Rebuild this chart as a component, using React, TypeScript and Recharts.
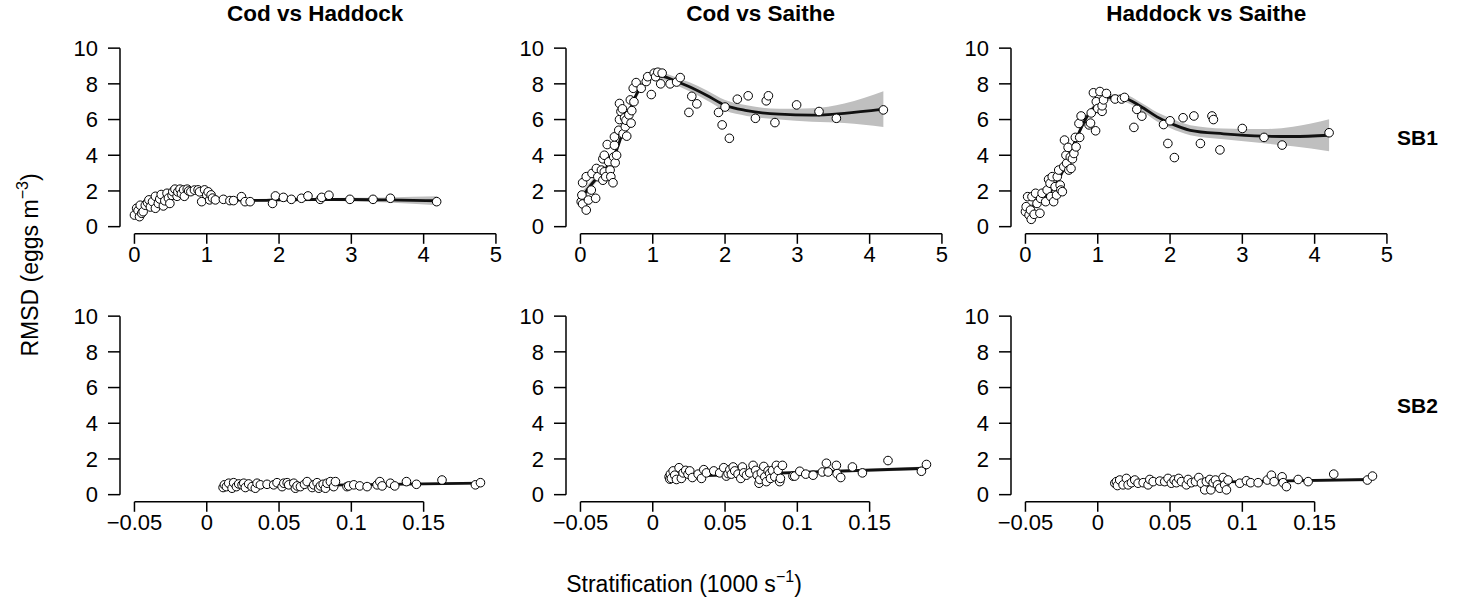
import React from "react";
import { ComposedChart, Scatter, Line, Area, XAxis, YAxis, ReferenceLine } from "recharts";

type Pt = [number, number];

const titles = ["Cod vs Haddock", "Cod vs Saithe", "Haddock vs Saithe"];
const rowLabels = ["SB1", "SB2"];
const yTicks = [0, 2, 4, 6, 8, 10];
const xTicksSB1 = [0, 1, 2, 3, 4, 5];
const xTicksSB2 = [-0.05, 0, 0.05, 0.1, 0.15];

// SB1 points (stratification, RMSD)
const codHaddockSB1: Pt[] = [
  [0, 0.65], [0.03, 1.03], [0.05, 0.9], [0.07, 0.56], [0.08, 1.2], [0.1, 0.75], [0.12, 0.84], [0.15, 1.2],
  [0.18, 1.35], [0.2, 1.5], [0.22, 1.1], [0.25, 1.4], [0.29, 1.7], [0.29, 1.03], [0.33, 1.3], [0.35, 1.55],
  [0.37, 1.8], [0.4, 1.16], [0.42, 1.45], [0.45, 1.87], [0.47, 1.6], [0.49, 1.3], [0.52, 1.75], [0.53, 1.96],
  [0.56, 2.1], [0.59, 1.7], [0.6, 1.95], [0.63, 2.1], [0.65, 1.85], [0.68, 2.06], [0.69, 1.7], [0.73, 2.1],
  [0.75, 2.0], [0.78, 1.96], [0.83, 2.05], [0.88, 2.06], [0.9, 1.95], [0.93, 1.4], [0.97, 2.06], [1.0, 1.78],
  [1.02, 1.95], [1.04, 1.5], [1.06, 1.78], [1.08, 1.6], [1.12, 1.5], [1.23, 1.53], [1.32, 1.46], [1.37, 1.46],
  [1.48, 1.68], [1.53, 1.4], [1.6, 1.4], [1.91, 1.3], [1.95, 1.72], [2.06, 1.64], [2.17, 1.53], [2.31, 1.59],
  [2.4, 1.72], [2.57, 1.53], [2.59, 1.64], [2.69, 1.76], [2.98, 1.53], [3.3, 1.53], [3.54, 1.59], [4.18, 1.4],
];
const codSaitheSB1: Pt[] = [
  [0.01, 1.4], [0.02, 1.77], [0.03, 1.27], [0.08, 0.93], [0.03, 2.46], [0.08, 2.8], [0.11, 1.49], [0.15, 2.05],
  [0.16, 2.98], [0.21, 1.59], [0.22, 3.26], [0.24, 2.8], [0.29, 3.17], [0.31, 2.6], [0.33, 3.07], [0.35, 2.8],
  [0.31, 3.8], [0.33, 4.0], [0.37, 4.6], [0.39, 3.63], [0.41, 3.17], [0.42, 2.8], [0.45, 2.46], [0.46, 3.9],
  [0.47, 4.56], [0.48, 3.58], [0.5, 4.0], [0.47, 5.03], [0.53, 5.4], [0.54, 6.0], [0.54, 6.9], [0.56, 6.45],
  [0.58, 6.6], [0.59, 5.2], [0.61, 6.1], [0.62, 5.6], [0.63, 5.96], [0.64, 5.07], [0.67, 6.26], [0.69, 7.1],
  [0.7, 5.8], [0.71, 6.5], [0.73, 7.75], [0.74, 7.0], [0.77, 8.07], [0.84, 7.75], [0.91, 8.13], [0.93, 8.4],
  [0.98, 7.4], [1.02, 8.6], [1.04, 8.4], [1.07, 8.65], [1.11, 8.0], [1.13, 8.6], [1.24, 8.0], [1.33, 8.1],
  [1.38, 8.35], [1.5, 6.4], [1.54, 7.3], [1.61, 6.88], [1.91, 6.4], [1.96, 5.7], [2.0, 6.7], [2.06, 4.95],
  [2.17, 7.14], [2.32, 7.33], [2.42, 6.07], [2.57, 7.05], [2.6, 7.33], [2.69, 5.83], [2.99, 6.82], [3.3, 6.45],
  [3.54, 6.07], [4.19, 6.54],
];
const haddockSaitheSB1: Pt[] = [
  [0, 0.84], [0.01, 1.12], [0.03, 1.68], [0.05, 0.65], [0.07, 0.93], [0.08, 0.41], [0.09, 1.68], [0.12, 0.69],
  [0.14, 1.87], [0.16, 1.3], [0.2, 0.75], [0.21, 1.58], [0.23, 1.87], [0.28, 1.4], [0.3, 2.05], [0.32, 2.65],
  [0.34, 2.43], [0.35, 1.68], [0.37, 2.8], [0.39, 1.4], [0.41, 2.24], [0.43, 1.77], [0.44, 2.8], [0.46, 3.17],
  [0.48, 2.33], [0.49, 2.05], [0.51, 1.96], [0.53, 3.36], [0.54, 4.85], [0.56, 4.0], [0.57, 3.55], [0.59, 4.44],
  [0.6, 3.17], [0.62, 3.9], [0.63, 3.26], [0.65, 3.8], [0.67, 4.1], [0.69, 5.0], [0.7, 4.47], [0.74, 5.78],
  [0.75, 5.0], [0.77, 6.2], [0.88, 5.7], [0.9, 5.8], [0.91, 6.37], [0.97, 5.37], [0.94, 7.5], [0.98, 7.0],
  [1.0, 6.62], [1.03, 7.57], [1.06, 6.46], [1.06, 6.77], [1.08, 7.1], [1.12, 7.46], [1.24, 7.15], [1.33, 7.15],
  [1.37, 7.24], [1.5, 5.56], [1.54, 6.57], [1.61, 6.19], [1.91, 5.72], [1.97, 4.66], [2.0, 5.93], [2.06, 3.87],
  [2.18, 6.1], [2.33, 6.2], [2.42, 4.66], [2.58, 6.2], [2.6, 6.0], [2.69, 4.3], [3.0, 5.5], [3.3, 5.0],
  [3.55, 4.57], [4.2, 5.26],
];

// SB2 points
const codHaddockSB2: Pt[] = [
  [0.0113, 0.4], [0.0122, 0.55], [0.0136, 0.45], [0.0152, 0.64], [0.0175, 0.36], [0.0186, 0.67], [0.0205, 0.45],
  [0.0221, 0.6], [0.0244, 0.55], [0.0256, 0.64], [0.0267, 0.4], [0.029, 0.6], [0.0313, 0.45], [0.0336, 0.36],
  [0.0348, 0.64], [0.0371, 0.55], [0.0417, 0.58], [0.0463, 0.55], [0.0486, 0.67], [0.0521, 0.45], [0.0533, 0.64],
  [0.0556, 0.67], [0.0567, 0.55], [0.0602, 0.64], [0.0613, 0.36], [0.0625, 0.49], [0.0648, 0.45], [0.0676, 0.58],
  [0.0694, 0.73], [0.0729, 0.4], [0.074, 0.55], [0.0763, 0.67], [0.0775, 0.36], [0.0786, 0.49], [0.0805, 0.58],
  [0.0821, 0.36], [0.0832, 0.64], [0.0855, 0.73], [0.0878, 0.45], [0.089, 0.73], [0.097, 0.45], [0.0982, 0.49],
  [0.1017, 0.55], [0.1058, 0.49], [0.1109, 0.45], [0.1178, 0.55], [0.1197, 0.73], [0.1213, 0.49], [0.127, 0.64],
  [0.13, 0.49], [0.1381, 0.73], [0.145, 0.58], [0.1627, 0.82], [0.1858, 0.55], [0.1893, 0.67],
];
const codSaitheSB2: Pt[] = [
  [0.0113, 1.0], [0.0118, 0.87], [0.0122, 1.15], [0.0129, 0.91], [0.0141, 1.33], [0.0152, 1.09], [0.0164, 0.85],
  [0.0182, 1.51], [0.0198, 0.91], [0.021, 1.22], [0.0228, 1.36], [0.0244, 1.15], [0.0256, 1.33], [0.0274, 0.96],
  [0.0314, 1.15], [0.0337, 0.91], [0.0353, 1.4], [0.0371, 1.22], [0.0422, 1.33], [0.0463, 1.22], [0.0491, 1.51],
  [0.0509, 1.04], [0.0521, 1.18], [0.0533, 1.4], [0.0544, 1.15], [0.0556, 1.55], [0.0567, 1.33], [0.059, 1.15],
  [0.0609, 0.91], [0.062, 1.55], [0.0629, 1.22], [0.0648, 1.09], [0.0671, 1.22], [0.0694, 1.64], [0.0712, 1.36],
  [0.0722, 1.09], [0.0735, 0.64], [0.074, 0.85], [0.0751, 1.22], [0.0768, 1.58], [0.0775, 1.0], [0.0786, 0.73],
  [0.0798, 1.33], [0.0809, 1.18], [0.0814, 0.91], [0.0828, 1.36], [0.0844, 1.0], [0.0855, 1.64], [0.0867, 1.36],
  [0.0878, 0.73], [0.0883, 0.91], [0.0897, 1.64], [0.097, 1.04], [0.0982, 1.04], [0.1017, 1.31], [0.1058, 1.15],
  [0.1109, 1.09], [0.1173, 1.27], [0.1201, 1.76], [0.1213, 1.27], [0.127, 1.64], [0.1275, 1.18], [0.13, 0.96],
  [0.1381, 1.55], [0.145, 1.22], [0.1627, 1.91], [0.1858, 1.31], [0.1893, 1.69],
];
const haddockSaitheSB2: Pt[] = [
  [0.0118, 0.64], [0.0129, 0.73], [0.0136, 0.51], [0.0152, 0.82], [0.0175, 0.55], [0.0198, 0.91], [0.021, 0.55],
  [0.0233, 0.67], [0.0256, 0.82], [0.0279, 0.64], [0.0314, 0.67], [0.0348, 0.55], [0.036, 0.85], [0.0383, 0.73],
  [0.0429, 0.76], [0.0463, 0.73], [0.0486, 0.91], [0.0509, 0.64], [0.0528, 0.82], [0.0544, 0.67], [0.056, 0.91],
  [0.0579, 0.73], [0.0613, 0.55], [0.0625, 0.85], [0.0648, 0.67], [0.0676, 0.73], [0.0699, 0.96], [0.0717, 0.64],
  [0.074, 0.27], [0.0751, 0.73], [0.0775, 0.85], [0.0782, 0.27], [0.0798, 0.67], [0.0814, 0.82], [0.0828, 0.55],
  [0.0844, 0.36], [0.0867, 0.96], [0.0878, 0.55], [0.089, 0.27], [0.0901, 0.82], [0.0982, 0.64], [0.1028, 0.78],
  [0.1058, 0.67], [0.1109, 0.67], [0.1173, 0.82], [0.1201, 1.09], [0.122, 0.73], [0.1275, 1.0], [0.1282, 0.67],
  [0.1305, 0.45], [0.1386, 0.85], [0.1455, 0.73], [0.1632, 1.15], [0.1865, 0.82], [0.19, 1.04],
];

// smooth fits: x, fitted value, half width of the grey band
const codHaddockSB1FitX = [0, 0.1, 0.2, 0.3, 0.4, 0.5, 0.6, 0.7, 0.8, 0.9, 1.0, 1.1, 1.2, 1.4, 1.7, 2.0, 2.5, 3.0, 3.5, 4.19];
const codHaddockSB1Fit = [0.8, 1.05, 1.3, 1.5, 1.68, 1.84, 1.95, 2.0, 1.98, 1.9, 1.78, 1.66, 1.57, 1.5, 1.47, 1.5, 1.52, 1.52, 1.5, 1.45];
const codHaddockSB1Se = [0.12, 0.1, 0.08, 0.08, 0.08, 0.08, 0.08, 0.08, 0.08, 0.08, 0.08, 0.08, 0.08, 0.08, 0.08, 0.08, 0.08, 0.1, 0.14, 0.25];

const codSaitheSB1FitX = [0, 0.1, 0.2, 0.3, 0.4, 0.5, 0.6, 0.7, 0.8, 0.9, 1.0, 1.1, 1.2, 1.35, 1.5, 1.75, 2.0, 2.3, 2.75, 3.2, 3.65, 4.19];
const codSaitheSB1Fit = [1.5, 2.1, 2.6, 3.05, 3.5, 4.3, 5.5, 6.7, 7.6, 8.1, 8.4, 8.45, 8.35, 8.1, 7.85, 7.35, 6.8, 6.5, 6.3, 6.25, 6.35, 6.58];
const codSaitheSB1Se = [0.35, 0.25, 0.2, 0.2, 0.2, 0.2, 0.2, 0.2, 0.2, 0.2, 0.2, 0.2, 0.2, 0.22, 0.25, 0.28, 0.3, 0.3, 0.3, 0.38, 0.55, 1.0];

const haddockSaitheSB1FitX = [0, 0.2, 0.4, 0.55, 0.7, 0.85, 1.0, 1.13, 1.36, 1.59, 1.82, 2.0, 2.28, 2.74, 3.3, 3.7, 4.2];
const haddockSaitheSB1Fit = [0.8, 1.45, 2.25, 3.4, 4.9, 6.15, 6.9, 7.25, 7.2, 6.75, 6.15, 5.8, 5.4, 5.2, 5.07, 5.05, 5.12];
const haddockSaitheSB1Se = [0.25, 0.18, 0.18, 0.18, 0.18, 0.18, 0.18, 0.18, 0.2, 0.22, 0.26, 0.28, 0.28, 0.3, 0.4, 0.55, 0.9];

const codHaddockSB2FitX = [0.0113, 0.1893];
const codHaddockSB2Fit = [0.45, 0.65];
const codHaddockSB2Se = [0.04, 0.06];
const codSaitheSB2FitX = [0.0113, 0.1893];
const codSaitheSB2Fit = [1.0, 1.48];
const codSaitheSB2Se = [0.06, 0.1];
const haddockSaitheSB2FitX = [0.0113, 0.1893];
const haddockSaitheSB2Fit = [0.62, 0.85];
const haddockSaitheSB2Se = [0.04, 0.06];

const FONT = '"Liberation Sans", Arial, Helvetica, sans-serif';
const PW = 390.4;
const PH = 192.8;
const colLeft = [120, 565.5, 1011];
const rowTop = [41, 309];
const yDomain: [number, number] = [-0.4, 10.4];

const fmt = (v: number) => (v < 0 ? "\u2212" + Math.abs(v) : String(v));

const dotShape = (p: any) => (
  <circle cx={p.cx} cy={p.cy} r={4.3} fill="#fff" stroke="#000" strokeWidth={1} />
);

function Panel(props: {
  pts: Pt[];
  fx: number[];
  fy: number[];
  se: number[];
  xDomain: [number, number];
  xTicks: number[];
  left: number;
  top: number;
}) {
  const { pts, fx, fy, se, xDomain, xTicks, left, top } = props;
  const fit = fx.map((x, i) => ({ x, fit: fy[i], band: [fy[i] - se[i], fy[i] + se[i]] }));
  const scatter = pts.map(([x, y]) => ({ x, y }));
  const tickStyle = { fill: "#000", fontSize: 22, fontFamily: FONT };
  return (
    <div style={{ position: "absolute", left: left - 70, top: top - 10 }}>
      <ComposedChart
        width={PW + 80}
        height={PH + 60}
        data={fit}
        margin={{ top: 10, right: 10, left: 10, bottom: 20 }}
      >
        <XAxis
          type="number"
          dataKey="x"
          domain={xDomain}
          ticks={xTicks}
          interval={0}
          allowDataOverflow
          axisLine={false}
          tickLine={{ stroke: "#000", strokeWidth: 1.5 }}
          tickSize={10}
          tickMargin={3}
          height={30}
          tick={tickStyle}
          tickFormatter={fmt}
        />
        <YAxis
          type="number"
          dataKey="y"
          domain={yDomain}
          ticks={yTicks}
          interval={0}
          allowDataOverflow
          axisLine={false}
          tickLine={{ stroke: "#000", strokeWidth: 1.5 }}
          tickSize={12}
          tickMargin={10}
          width={60}
          tick={tickStyle}
        />
        <Area
          dataKey="band"
          type="monotone"
          stroke="none"
          fill="#bfbfbf"
          fillOpacity={1}
          isAnimationActive={false}
        />
        <Line
          dataKey="fit"
          type="monotone"
          stroke="#111"
          strokeWidth={2.8}
          dot={false}
          isAnimationActive={false}
        />
        <Scatter data={scatter} shape={dotShape} isAnimationActive={false} />
        <ReferenceLine
          segment={[{ x: xTicks[0], y: yDomain[0] }, { x: xTicks[xTicks.length - 1], y: yDomain[0] }]}
          stroke="#000"
          strokeWidth={1.5}
          ifOverflow="visible"
        />
        <ReferenceLine
          segment={[{ x: xDomain[0], y: 0 }, { x: xDomain[0], y: 10 }]}
          stroke="#000"
          strokeWidth={1.5}
          ifOverflow="visible"
        />
      </ComposedChart>
    </div>
  );
}

const sb1Domain: [number, number] = [-0.2, 5.2];
const sb2Domain: [number, number] = [-0.06, 0.21];

export default function App() {
  return (
    <div
      style={{
        position: "absolute",
        left: 0,
        top: 0,
        width: 1467,
        height: 602,
        background: "#fff",
        fontFamily: FONT,
        overflow: "hidden",
      }}
    >
      <Panel pts={codHaddockSB1} fx={codHaddockSB1FitX} fy={codHaddockSB1Fit} se={codHaddockSB1Se}
        xDomain={sb1Domain} xTicks={xTicksSB1} left={colLeft[0]} top={rowTop[0]} />
      <Panel pts={codSaitheSB1} fx={codSaitheSB1FitX} fy={codSaitheSB1Fit} se={codSaitheSB1Se}
        xDomain={sb1Domain} xTicks={xTicksSB1} left={colLeft[1]} top={rowTop[0]} />
      <Panel pts={haddockSaitheSB1} fx={haddockSaitheSB1FitX} fy={haddockSaitheSB1Fit} se={haddockSaitheSB1Se}
        xDomain={sb1Domain} xTicks={xTicksSB1} left={colLeft[2]} top={rowTop[0]} />
      <Panel pts={codHaddockSB2} fx={codHaddockSB2FitX} fy={codHaddockSB2Fit} se={codHaddockSB2Se}
        xDomain={sb2Domain} xTicks={xTicksSB2} left={colLeft[0]} top={rowTop[1]} />
      <Panel pts={codSaitheSB2} fx={codSaitheSB2FitX} fy={codSaitheSB2Fit} se={codSaitheSB2Se}
        xDomain={sb2Domain} xTicks={xTicksSB2} left={colLeft[1]} top={rowTop[1]} />
      <Panel pts={haddockSaitheSB2} fx={haddockSaitheSB2FitX} fy={haddockSaitheSB2Fit} se={haddockSaitheSB2Se}
        xDomain={sb2Domain} xTicks={xTicksSB2} left={colLeft[2]} top={rowTop[1]} />

      <svg width={1467} height={602} style={{ position: "absolute", left: 0, top: 0, pointerEvents: "none" }}>
        {titles.map((t, i) => (
          <text key={t} x={colLeft[i] + PW / 2} y={21} textAnchor="middle" fontSize={22.5} fontWeight="bold" fill="#000">
            {t}
          </text>
        ))}
        {rowLabels.map((t, i) => (
          <text key={t} x={1397} y={rowTop[i] + PH / 2 + 8} fontSize={21} fontWeight="bold" fill="#000">
            {t}
          </text>
        ))}
        <text transform="translate(38,265) rotate(-90)" textAnchor="middle" fontSize={23} fill="#000">
          RMSD (eggs m<tspan dy={-10} fontSize={16}>{"\u22123"}</tspan>
          <tspan dy={10}>)</tspan>
        </text>
        <text x={684} y={592} textAnchor="middle" fontSize={23} fill="#000">
          Stratification (1000 s<tspan dy={-10} fontSize={16}>{"\u22121"}</tspan>
          <tspan dy={10}>)</tspan>
        </text>
      </svg>
    </div>
  );
}
